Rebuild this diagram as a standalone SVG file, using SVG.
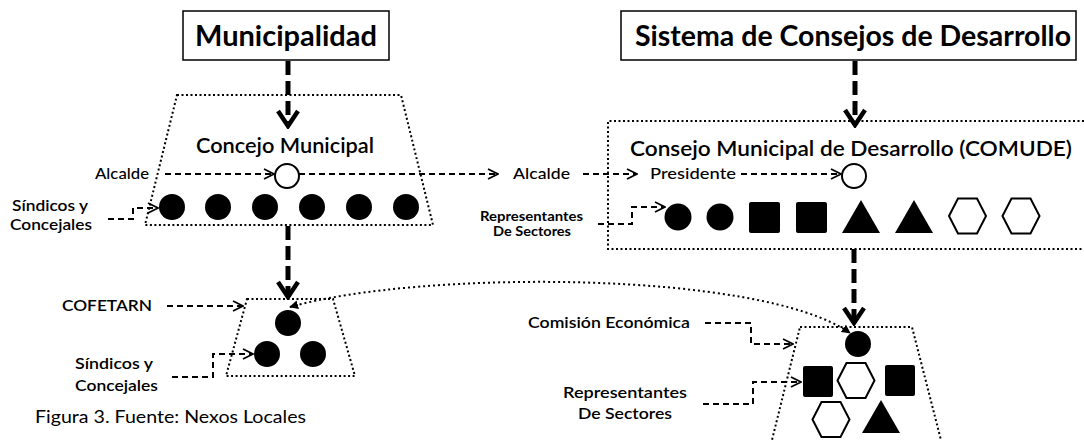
<svg xmlns="http://www.w3.org/2000/svg" width="1084" height="440" viewBox="0 0 1084 440">
<defs>
<style>
text{font-family:Lato,"Open Sans","Liberation Sans",sans-serif;fill:#000}
.title{font-size:29px;font-weight:700}
.head{font-size:20.5px;font-weight:600}
.lbl{font-size:15px;font-weight:600}
.reg{font-size:15px;font-weight:500}
.sm{font-size:12.5px;font-weight:700}
.cap{font-size:17px;font-weight:400}
.box{fill:#fff;stroke:#000;stroke-width:1.5}
.dot{fill:none;stroke:#000;stroke-width:2;stroke-dasharray:2 2.5}
.thick{fill:none;stroke:#000;stroke-width:5;stroke-dasharray:14 6;marker-end:url(#big)}
.dash{fill:none;stroke:#000;stroke-width:2;stroke-dasharray:6 4;marker-end:url(#small)}
.curve{fill:none;stroke:#000;stroke-width:2;stroke-dasharray:2 3;marker-start:url(#tri);marker-end:url(#tri)}
.solid{fill:#000}
.open{fill:#fff;stroke:#000;stroke-width:2}
</style>
<marker id="big" viewBox="0 0 20 24" refX="17" refY="12" markerWidth="20" markerHeight="24" markerUnits="userSpaceOnUse" orient="auto">
<path d="M2,2 L17,12 L2,22" fill="none" stroke="#000" stroke-width="4.5"/>
</marker>
<marker id="small" viewBox="0 0 12 12" refX="11" refY="6" markerWidth="12" markerHeight="12" markerUnits="userSpaceOnUse" orient="auto">
<path d="M1,1 L11,6 L1,11" fill="none" stroke="#000" stroke-width="1.8"/>
</marker>
<marker id="tri" viewBox="0 0 10 10" refX="9" refY="5" markerWidth="9" markerHeight="9" markerUnits="userSpaceOnUse" orient="auto-start-reverse">
<path d="M0,0 L10,5 L0,10 Z" fill="#000"/>
</marker>
<polygon id="hex" points="-18.5,0 -9.5,-17.5 9.5,-17.5 18.5,0 9.5,17.5 -9.5,17.5"/>
</defs>

<rect width="1084" height="440" fill="#fff"/>

<g id="connectors">
<path class="thick" d="M288,61 V126"/>
<path class="thick" d="M288,226 V297"/>
<path class="thick" d="M855,61 V125"/>
<path class="thick" d="M854,249 V323"/>
<path class="dash" d="M165,174 H274"/>
<path class="dash" d="M299,174 H498"/>
<path class="dash" d="M583,174 H637"/>
<path class="dash" d="M741,174 H841"/>
<path class="dash" d="M108,219 H133 V208 H158"/>
<path class="dash" d="M598,224 H632 V207 H665"/>
<path class="dash" d="M167,306 H243"/>
<path class="dash" d="M172,377 H213 V354 H253"/>
<path class="dash" d="M705,323 H751 V344 H793"/>
<path class="dash" d="M703,404 H753 V382 H801"/>
<path class="curve" d="M290,307 C420,270 760,270 850,333"/>
</g>

<g id="municipalidad">
<rect class="box" x="183" y="11" width="206" height="49"/>
<text class="title" x="195" y="46" textLength="182" lengthAdjust="spacingAndGlyphs">Municipalidad</text>
</g>

<g id="sistema-consejos">
<rect class="box" x="621" y="11" width="455" height="49"/>
<text class="title" x="635" y="46" textLength="436" lengthAdjust="spacingAndGlyphs">Sistema de Consejos de Desarrollo</text>
</g>

<g id="concejo-municipal">
<polygon class="dot" points="177,95 401,95 433,225 145,225"/>
<text class="head" x="196" y="153" textLength="178" lengthAdjust="spacingAndGlyphs">Concejo Municipal</text>
<circle class="open" cx="287" cy="176" r="12"/>
<circle class="solid" cx="172" cy="207" r="13"/>
<circle class="solid" cx="218" cy="207" r="13"/>
<circle class="solid" cx="265" cy="207" r="13"/>
<circle class="solid" cx="312" cy="207" r="13"/>
<circle class="solid" cx="359" cy="207" r="13"/>
<circle class="solid" cx="406" cy="207" r="13"/>
</g>

<g id="comude">
<path class="dot" d="M1084,121 H608 V249 H1084"/>
<text class="head" x="630" y="156" textLength="442" lengthAdjust="spacingAndGlyphs">Consejo Municipal de Desarrollo (COMUDE)</text>
<text class="reg" x="650" y="179" textLength="86" lengthAdjust="spacingAndGlyphs">Presidente</text>
<circle class="open" cx="854" cy="176" r="12"/>
<circle class="solid" cx="678" cy="217" r="13.5"/>
<circle class="solid" cx="720" cy="217" r="13.5"/>
<rect class="solid" x="749" y="202" width="31" height="31" rx="2"/>
<rect class="solid" x="796" y="202" width="31" height="31" rx="2"/>
<polygon class="solid" points="861,200 842,233 880,233"/>
<polygon class="solid" points="914,200 895,233 933,233"/>
<use href="#hex" class="open" x="967.5" y="216"/>
<use href="#hex" class="open" x="1021" y="216"/>
</g>

<g id="cofetarn">
<polygon class="dot" points="247,299 333,299 355,376 226,376"/>
<circle class="solid" cx="288" cy="323" r="13"/>
<circle class="solid" cx="267" cy="354" r="13"/>
<circle class="solid" cx="313" cy="354" r="13"/>
</g>

<g id="comision-economica">
<polygon class="dot" points="800,327 912,327 943,448 770,448"/>
<circle class="solid" cx="858" cy="344" r="13"/>
<rect class="solid" x="803" y="366" width="30" height="31" rx="2"/>
<use href="#hex" class="open" x="856" y="380.5"/>
<rect class="solid" x="885" y="365" width="30" height="31" rx="2"/>
<use href="#hex" class="open" x="831" y="419.5"/>
<polygon class="solid" points="881,400 862,433 900,433"/>
</g>

<g id="labels">
<text class="reg" x="95" y="179" textLength="54" lengthAdjust="spacingAndGlyphs">Alcalde</text>
<text class="reg" x="513" y="179" textLength="57" lengthAdjust="spacingAndGlyphs">Alcalde</text>
<text class="lbl" x="12" y="211" textLength="76" lengthAdjust="spacingAndGlyphs">Síndicos y</text>
<text class="lbl" x="10" y="230" textLength="82" lengthAdjust="spacingAndGlyphs">Concejales</text>
<text class="sm" x="480" y="221" textLength="103" lengthAdjust="spacingAndGlyphs">Representantes</text>
<text class="sm" x="493" y="236" textLength="78" lengthAdjust="spacingAndGlyphs">De Sectores</text>
<text class="lbl" x="62" y="311" textLength="90" lengthAdjust="spacingAndGlyphs">COFETARN</text>
<text class="lbl" x="75" y="369" textLength="78" lengthAdjust="spacingAndGlyphs">Síndicos y</text>
<text class="lbl" x="75" y="391" textLength="83" lengthAdjust="spacingAndGlyphs">Concejales</text>
<text class="lbl" x="528" y="328" textLength="162" lengthAdjust="spacingAndGlyphs">Comisión Económica</text>
<text class="lbl" x="563" y="398" font-size="17" textLength="124" lengthAdjust="spacingAndGlyphs">Representantes</text>
<text class="lbl" x="578" y="419" font-size="17" textLength="94" lengthAdjust="spacingAndGlyphs">De Sectores</text>
</g>

<g id="caption">
<text class="cap" x="35" y="423" textLength="271" lengthAdjust="spacingAndGlyphs">Figura 3. Fuente: Nexos Locales</text>
</g>
</svg>
